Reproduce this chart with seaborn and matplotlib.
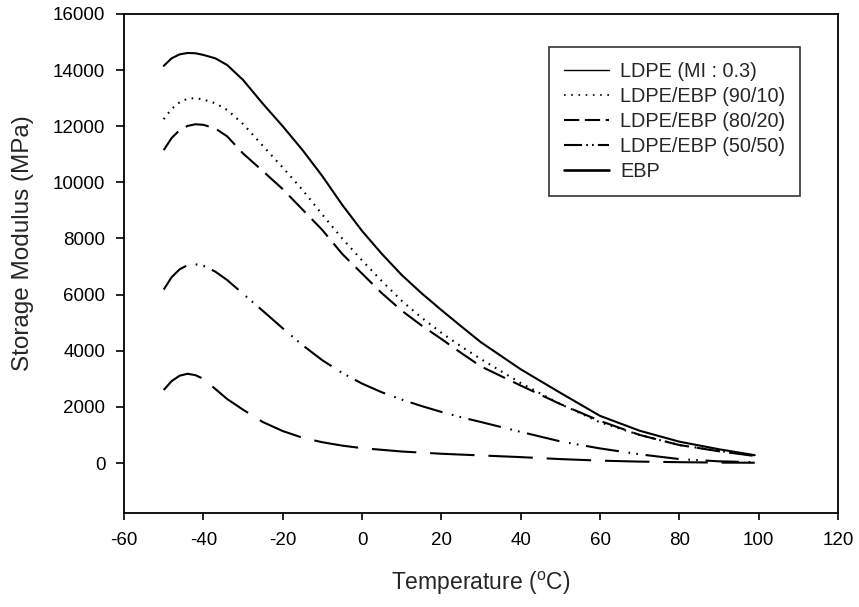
import matplotlib
matplotlib.use("Agg")
import matplotlib.pyplot as plt
from matplotlib.lines import Line2D
import pandas as pd
import seaborn as sns

# temperature grid (deg C)
temps = [-50, -48, -46, -44, -42, -40, -37, -34, -30, -25, -20, -15, -10, -5,
         0, 5, 10, 15, 20, 25, 30, 40, 50, 60, 70, 80, 90, 99]

ldpe = [14150, 14420, 14560, 14610, 14600, 14540, 14420, 14180, 13650, 12800,
        12000, 11150, 10220, 9200, 8270, 7450, 6700, 6050, 5450, 4870, 4300,
        3340, 2500, 1680, 1150, 760, 490, 280]
blend_90_10 = [12250, 12620, 12850, 12980, 13000, 12950, 12820, 12580, 12080,
               11300, 10530, 9730, 8850, 8000, 7220, 6480, 5780, 5180, 4640,
               4150, 3700, 2850, 2100, 1450, 1000, 640, 430, 270]
blend_80_20 = [11150, 11580, 11860, 12010, 12070, 12050, 11920, 11640, 11030,
               10400, 9760, 9030, 8300, 7450, 6750, 6050, 5430, 4900, 4420,
               3920, 3440, 2760, 2100, 1500, 1000, 640, 420, 250]
blend_50_50 = [6180, 6620, 6900, 7050, 7080, 7030, 6820, 6520, 6030, 5420,
               4800, 4200, 3660, 3210, 2830, 2520, 2260, 2030, 1820, 1630,
               1460, 1110, 770, 520, 310, 140, 60, 30]
ebp = [2600, 2920, 3110, 3180, 3130, 3000, 2640, 2280, 1900, 1460, 1140, 900,
       740, 620, 530, 470, 410, 370, 330, 300, 270, 210, 140, 85, 50, 30, 15,
       10]

labels = ["LDPE (MI : 0.3)", "LDPE/EBP (90/10)", "LDPE/EBP (80/20)",
          "LDPE/EBP (50/50)", "EBP"]
series = [ldpe, blend_90_10, blend_80_20, blend_50_50, ebp]

rows = []
for lab, vals in zip(labels, series):
    for t, v in zip(temps, vals):
        rows.append({"Temperature": t, "Modulus": v, "Sample": lab})
df = pd.DataFrame(rows)

sns.set_style("ticks")
plt.rcParams["font.family"] = ["Liberation Sans", "DejaVu Sans"]
plt.rcParams["mathtext.fontset"] = "custom"
plt.rcParams["mathtext.rm"] = "Liberation Sans"
plt.rcParams["axes.unicode_minus"] = False
plt.rcParams["lines.scale_dashes"] = False

# dash patterns in points
dash_map = {
    labels[0]: "",
    labels[1]: (1.2, 4.0),
    labels[2]: (17, 6.5),
    labels[3]: (24, 7, 1.2, 4.5, 1.2, 5.5),
    labels[4]: (32, 10),
}

fig = plt.figure(figsize=(8.59, 6.07), dpi=100)
ax = fig.add_axes([0.1444, 0.1549, 0.8312, 0.8221])

sns.lineplot(data=df, x="Temperature", y="Modulus", style="Sample",
             dashes=dash_map, color="black", linewidth=1.5, ax=ax,
             legend=False, sort=False)

ax.set_xlim(-60, 120)
ax.set_ylim(-1780, 16000)
ax.set_xticks(range(-60, 121, 20))
ax.set_yticks(range(0, 16001, 2000))
ax.tick_params(direction="out", width=1.2, labelsize=13.5, colors="black")
ax.tick_params(axis="x", length=5, pad=9)
ax.tick_params(axis="y", length=5.5, pad=8)
for s in ax.spines.values():
    s.set_visible(True)
    s.set_linewidth(1.3)
    s.set_color("black")

ax.set_xlabel("Temperature ($^{\\mathrm{o}}$C)", fontsize=16.5, labelpad=15)
ax.set_ylabel("Storage Modulus (MPa)", fontsize=17.5)
ax.yaxis.set_label_coords(-0.126, 0.54)

handles = [
    Line2D([], [], color="black", lw=1.0),
    Line2D([], [], color="black", lw=1.2, dashes=(1.2, 4.0)),
    Line2D([], [], color="black", lw=1.5, dashes=(11, 4)),
    Line2D([], [], color="black", lw=1.5, dashes=(13, 3, 1.2, 3, 1.2, 3)),
    Line2D([], [], color="black", lw=1.9),
]
leg = ax.legend(handles, labels, loc="upper right",
                bbox_to_anchor=(0.9468, 0.9339), borderaxespad=0,
                fontsize=14.3, frameon=True, fancybox=False,
                edgecolor="black", handlelength=2.25, handletextpad=0.55,
                labelspacing=0.3, borderpad=0.75)
leg.get_frame().set_linewidth(1.2)

fig.savefig("out.png", dpi=100)
